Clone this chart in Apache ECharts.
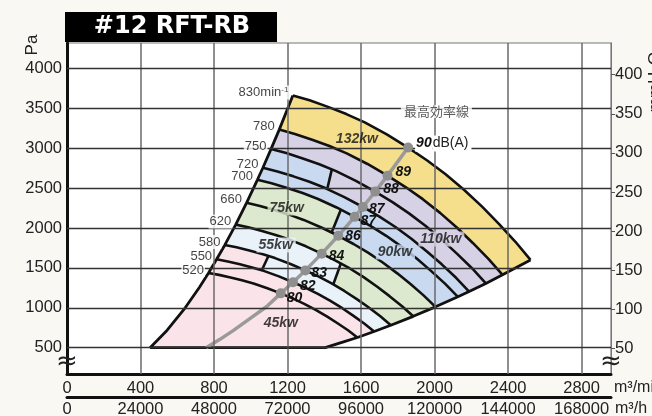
<!DOCTYPE html>
<html><head><meta charset="utf-8">
<script src="https://cdn.jsdelivr.net/npm/echarts@6/dist/echarts.min.js"></script>
<style>html,body{margin:0;padding:0;background:#f9f8f3;}#c{width:652px;height:416px;}</style>
</head><body><div id="c"></div>
<script>
// ---------------- data ----------------
const rpmValues = [830, 780, 750, 720, 700, 660, 620, 580, 550, 520];
// fan curves: [flow m3/min, static pressure Pa]
const curve830 = [[1229,3662],[1320,3601],[1420,3519],[1520,3429],[1620,3324],[1740,3174],[1856,3009],[1960,2847],[2060,2675],[2160,2480],[2260,2265],[2350,2053],[2440,1828],[2522,1600]];
const curve780 = [[1155,3234],[1240,3180],[1334,3108],[1428,3028],[1522,2936],[1635,2803],[1744,2657],[1842,2514],[1936,2362],[2030,2190],[2124,2000],[2208,1813],[2293,1614],[2370,1413]];
const curve750 = [[1110,2990],[1193,2940],[1283,2873],[1373,2800],[1464,2714],[1572,2592],[1677,2457],[1771,2325],[1861,2184],[1952,2025],[2042,1849],[2123,1676],[2205,1493],[2279,1306]];
const curve720 = [[1066,2756],[1145,2710],[1232,2648],[1319,2580],[1405,2501],[1509,2388],[1610,2264],[1700,2142],[1787,2013],[1874,1866],[1960,1704],[2039,1545],[2117,1376],[2188,1204]];
const curve700 = [[1036,2605],[1113,2561],[1198,2503],[1282,2439],[1366,2364],[1467,2258],[1565,2140],[1653,2025],[1737,1903],[1822,1764],[1906,1611],[1982,1460],[2058,1300],[2127,1138]];
const curve660 = [[977,2316],[1050,2277],[1129,2225],[1209,2168],[1288,2102],[1384,2007],[1476,1903],[1559,1800],[1638,1691],[1718,1568],[1797,1432],[1869,1298],[1940,1156],[2005,1012]];
const curve620 = [[918,2043],[986,2009],[1061,1964],[1135,1913],[1210,1855],[1300,1771],[1386,1679],[1464,1589],[1539,1493],[1614,1384],[1688,1264],[1755,1146],[1823,1020],[1884,893]];
const curve580 = [[859,1788],[922,1758],[992,1718],[1062,1674],[1132,1623],[1216,1550],[1297,1469],[1370,1390],[1440,1306],[1509,1211],[1579,1106],[1642,1003],[1705,893],[1762,781]];
const curve550 = [[814,1608],[875,1581],[941,1545],[1007,1506],[1074,1460],[1153,1394],[1230,1321],[1299,1250],[1365,1175],[1431,1089],[1498,995],[1557,902],[1617,803],[1671,703]];
const curve520 = [[770,1437],[827,1413],[890,1381],[952,1346],[1015,1305],[1090,1246],[1163,1181],[1228,1118],[1291,1050],[1353,974],[1416,889],[1472,806],[1529,718],[1580,628]];
// outer limits of the operating range
const leftEdge = [[452,500],[545,719],[643,1000],[720,1255],[770,1437],[814,1608],[859,1788],[918,2043],[977,2316],[1036,2605],[1066,2756],[1110,2990],[1155,3234],[1229,3662]];
const bottomEdge = [[452,500],[1405,500],[1500,569],[1580,628],[1671,703],[1762,781],[1884,893],[2005,1012],[2127,1138],[2188,1204],[2279,1306],[2370,1413],[2522,1600]];
// motor kW per band (band i lies between curve i and curve i+1; last = below 520)
const bandKw = [[132],[110],[90,110],[90],[75,90],[75],[55,75],[45,55],[45],[45]];
const stepTop = [null,null,[1441,2736],null,[1490,2230],null,[1490,1556],[1096,1649],null];
const stepBot = [null,null,[1416,2489],null,[1440,1944],null,[1449,1294],[1060,1470],null];
const kwLabels = ['132kw','110kw','90kw','75kw','55kw','45kw'];
const kwLabelClass = [132,110,90,75,55,45];
const kwPoints = [[1580,3125],[2037,1862],[1787,1700],[1198,2250],[1138,1788],[1166,812]];
// best efficiency line and its noise values
const effLine = [[757,500],[830,601],[906,717],[995,864],[1087,1016],[1163,1181],[1230,1321],[1297,1469],[1386,1679],[1476,1903],[1565,2140],[1610,2264],[1677,2457],[1744,2657],[1856,3009]];
const effDots = [[1856,3009],[1744,2657],[1677,2457],[1610,2264],[1565,2140],[1476,1903],[1386,1679],[1297,1469],[1230,1321],[1163,1181]];
const effDb = ['90','89','88','87','87','86','84','83','82','80'];
const effUnit = 'dB(A)';
const effTitle = '最高効率線';
const effTitlePoint = [2010, 3462];
// axes
const xTicksMin = [0,400,800,1200,1600,2000,2400,2800];
const xTicksH = [0,24000,48000,72000,96000,120000,144000,168000];
const yTicksPa = [500,1000,1500,2000,2500,3000,3500,4000];
const yTicksMm = [50,100,150,200,250,300,350,400];
const xMax = 2960, yMin = 170, yMax = 4320, paPerMm = 9.80665;

// ---------------- styles ----------------
const FONT = 'Liberation Sans, Arial, sans-serif';
const kwColor = {132:'#f5df8d',110:'#d7d1e5',90:'#c9daf0',75:'#dde9ce',55:'#e9f1f9',45:'#fbe3ea'};
const kwLabelHasBg = [false,true,true,true,true,false];
const dbOffsets = [[-2,-4],[-1,-3],[-1,-2],[-3,2],[-3,4],[-2,0],[-2,2.5],[-3,3],[-2,4],[-3,5]];
const plain = v => String(v);

const curves = [curve830, curve780, curve750, curve720, curve700, curve660, curve620, curve580, curve550, curve520];

// build filled regions from the data
const regions = [];
for (let i = 0; i < curves.length - 1; i++) {
  const U = curves[i], L = curves[i + 1];
  const kw = bandKw[i];
  regions.push({pts: U.concat(L.slice().reverse()), kw: kw[kw.length - 1]});
  if (stepTop[i]) {
    const left = U.filter(p => p[0] < stepTop[i][0]).concat([stepTop[i], stepBot[i]])
      .concat(L.filter(p => p[0] < stepBot[i][0]).reverse());
    regions.push({pts: left, kw: kw[0]});
  }
}
{
  const last = curves[curves.length - 1];
  const endQ = last[last.length - 1][0], startP = last[0][1];
  const pts = last.concat(bottomEdge.filter(p => p[0] < endQ).reverse())
    .concat(leftEdge.filter(p => p[1] > 500 && p[1] < startP));
  regions.push({pts, kw: bandKw[bandKw.length - 1][0]});
}

const lineBase = {type:'line', symbol:'none', silent:true, z:3, lineStyle:{color:'#111', width:2.6}};
const series = [];
series.push({
  type:'custom', z:1, silent:true,
  data: regions.map(() => [0, 1000]),
  renderItem: function (params, api) {
    const r = regions[params.dataIndex];
    return {type:'polygon', shape:{points: r.pts.map(p => api.coord(p))}, style:{fill: kwColor[r.kw]}};
  }
});
series.push({
  type:'line', data:[], z:2, silent:true,
  markLine:{silent:true, symbol:'none', label:{show:false}, animation:false,
    data: xTicksMin.filter(v => v > 0).map(v => ({xAxis:v, lineStyle:{color:'#6a6a6a', width:1.5, type:'solid'}}))
      .concat(yTicksPa.map(v => ({yAxis:v, lineStyle:{color:'#333', width:1.3, type:'solid'}})))}
});
curves.forEach(c => series.push(Object.assign({}, lineBase, {data: c})));
series.push(Object.assign({}, lineBase, {data: leftEdge, lineStyle:{color:'#111', width:2.8}}));
series.push(Object.assign({}, lineBase, {data: bottomEdge, lineStyle:{color:'#111', width:2.8}}));
stepTop.forEach((t, i) => { if (t) series.push(Object.assign({}, lineBase, {data:[t, stepBot[i]]})); });
// efficiency line
series.push({type:'line', data: effLine, symbol:'none', silent:true, z:4, lineStyle:{color:'#9a9a9a', width:3.5}});
series.push({
  type:'scatter', data: effDots, symbol:'circle', symbolSize:10, z:5, silent:true,
  itemStyle:{color:'#8f8f8f', opacity:1},
  label:{show:true, position:'right', distance:4,
    formatter: p => p.dataIndex === 0 ? '{b0|' + effDb[0] + '}{n0|' + effUnit + '}' : '{b|' + effDb[p.dataIndex] + '}',
    rich:{b:{fontSize:14, fontWeight:'bold', fontStyle:'italic', color:'#111', fontFamily:FONT},
          b0:{fontSize:14, fontWeight:'bold', fontStyle:'italic', color:'#111', fontFamily:FONT, backgroundColor:'#fff', padding:[1,1,1,1]},
          n0:{fontSize:14, color:'#222', fontFamily:FONT, backgroundColor:'#fff', padding:[1,3,1,0]}}
  },
  labelLayout: p => ({dx: dbOffsets[p.dataIndex][0], dy: dbOffsets[p.dataIndex][1]})
});
// kW labels
series.push({
  type:'scatter', data: kwPoints, symbolSize:1, z:6, silent:true, itemStyle:{color:'transparent'},
  label:{show:true, position:'inside',
    formatter: p => (kwLabelHasBg[p.dataIndex] ? '{k' + kwLabelClass[p.dataIndex] + '|' : '{k|') + kwLabels[p.dataIndex] + '}',
    rich: (function () {
      const base = {fontSize:14, fontWeight:'bold', fontStyle:'italic', color:'#111', fontFamily:FONT, padding:[1,3,0,2]};
      const r = {k: base};
      kwLabelClass.forEach(k => { r['k' + k] = Object.assign({}, base, {backgroundColor: kwColor[k]}); });
      return r;
    })()}
});
// rpm labels at the left end of each curve
series.push({
  type:'scatter', data: curves.map(c => c[0]), symbolSize:1, z:6, silent:true, itemStyle:{color:'transparent'},
  label:{show:true, position:'left', distance:3, offset:[0,-3],
    formatter: p => p.dataIndex === 0 ? '{a|' + rpmValues[0] + 'min}{s|-1}' : '{a|' + rpmValues[p.dataIndex] + '}',
    backgroundColor:'#fff', padding:[0,1],
    rich:{a:{fontSize:13, color:'#111', fontFamily:FONT, lineHeight:14}, s:{fontSize:8, color:'#111', fontFamily:FONT, verticalAlign:'top', lineHeight:14}}
  }
});
// efficiency title
series.push({
  type:'scatter', data:[effTitlePoint], symbolSize:1, z:6, silent:true, itemStyle:{color:'transparent'},
  label:{show:true, position:'inside', formatter: effTitle, fontSize:13, color:'#333',
    fontFamily:'Noto Sans CJK JP', backgroundColor:'#fff', padding:[0,3]}
});

const option = {
  backgroundColor:'#f9f8f3',
  animation:false,
  grid:{left:67, right:41, top:43, bottom:42, show:true, backgroundColor:'#fff', borderColor:'#777', borderWidth:1.2,
        containLabel:false, outerBoundsMode:'none'},
  xAxis:[
    {type:'value', min:0, max:xMax, position:'bottom',
     axisLine:{show:true, onZero:false, lineStyle:{color:'#111', width:3}}, axisTick:{show:false}, splitLine:{show:false},
     axisLabel:{customValues:xTicksMin, formatter:plain, fontSize:16.5, color:'#222', margin:6, fontFamily:FONT},
     name:'m³/min', nameLocation:'end', nameGap:3,
     nameTextStyle:{fontSize:16, color:'#222', fontFamily:FONT, verticalAlign:'top', align:'left', padding:[6,0,0,0]}},
    {type:'value', min:0, max:xMax*60, position:'bottom', offset:23,
     axisLine:{show:true, onZero:false, lineStyle:{color:'#111', width:3}}, axisTick:{show:false}, splitLine:{show:false},
     axisLabel:{customValues:xTicksH, formatter:plain, fontSize:16.5, color:'#222', margin:4, fontFamily:FONT},
     name:'m³/h', nameLocation:'end', nameGap:-3,
     nameTextStyle:{fontSize:16, color:'#222', fontFamily:FONT, verticalAlign:'top', align:'left', padding:[4,0,0,0]}}
  ],
  yAxis:[
    {type:'value', min:yMin, max:yMax, position:'left',
     axisLine:{show:true, onZero:false, lineStyle:{color:'#111', width:3}}, axisTick:{show:false}, splitLine:{show:false},
     axisLabel:{customValues:yTicksPa, formatter:plain, fontSize:16.5, color:'#222', margin:5, fontFamily:FONT}},
    {type:'value', min:yMin/paPerMm, max:yMax/paPerMm, position:'right',
     axisLine:{show:true, onZero:false, lineStyle:{color:'#777', width:1}},
     axisTick:{show:true, customValues:yTicksMm, length:4, lineStyle:{color:'#555'}}, splitLine:{show:false},
     axisLabel:{customValues:yTicksMm, formatter:plain, fontSize:16.5, color:'#222', margin:4, fontFamily:FONT}}
  ],
  graphic:[
    {type:'rect', left:65, top:12, shape:{width:212, height:30}, style:{fill:'#000'}, z:10},
    {type:'text', x:172, y:27, z:11, style:{text:'#12 RFT-RB', fill:'#fff', font:'bold 24px DejaVu Sans', align:'center', verticalAlign:'middle', textAlign:'center', textVerticalAlign:'middle'}},
    {type:'text', x:32, y:45, rotation:Math.PI/2, z:11, style:{text:'Pa', fill:'#222', font:'17px Liberation Sans', align:'center', verticalAlign:'middle', textAlign:'center', textVerticalAlign:'middle'}},
    {type:'text', x:655, y:82, rotation:Math.PI/2, z:11, style:{text:'mmH₂O', fill:'#222', font:'17px Liberation Sans', align:'center', verticalAlign:'middle', textAlign:'center', textVerticalAlign:'middle'}},
    {type:'text', x:67, y:362, z:11, style:{text:'≈', fill:'#222', font:'26px DejaVu Sans', align:'center', verticalAlign:'middle', textAlign:'center', textVerticalAlign:'middle'}},
    {type:'text', x:611, y:362, z:11, style:{text:'≈', fill:'#222', font:'26px DejaVu Sans', align:'center', verticalAlign:'middle', textAlign:'center', textVerticalAlign:'middle'}}
  ],
  series: series
};
const chart = echarts.init(document.getElementById('c'), null, {renderer:'canvas'});
chart.setOption(option);
</script>
</body></html>
